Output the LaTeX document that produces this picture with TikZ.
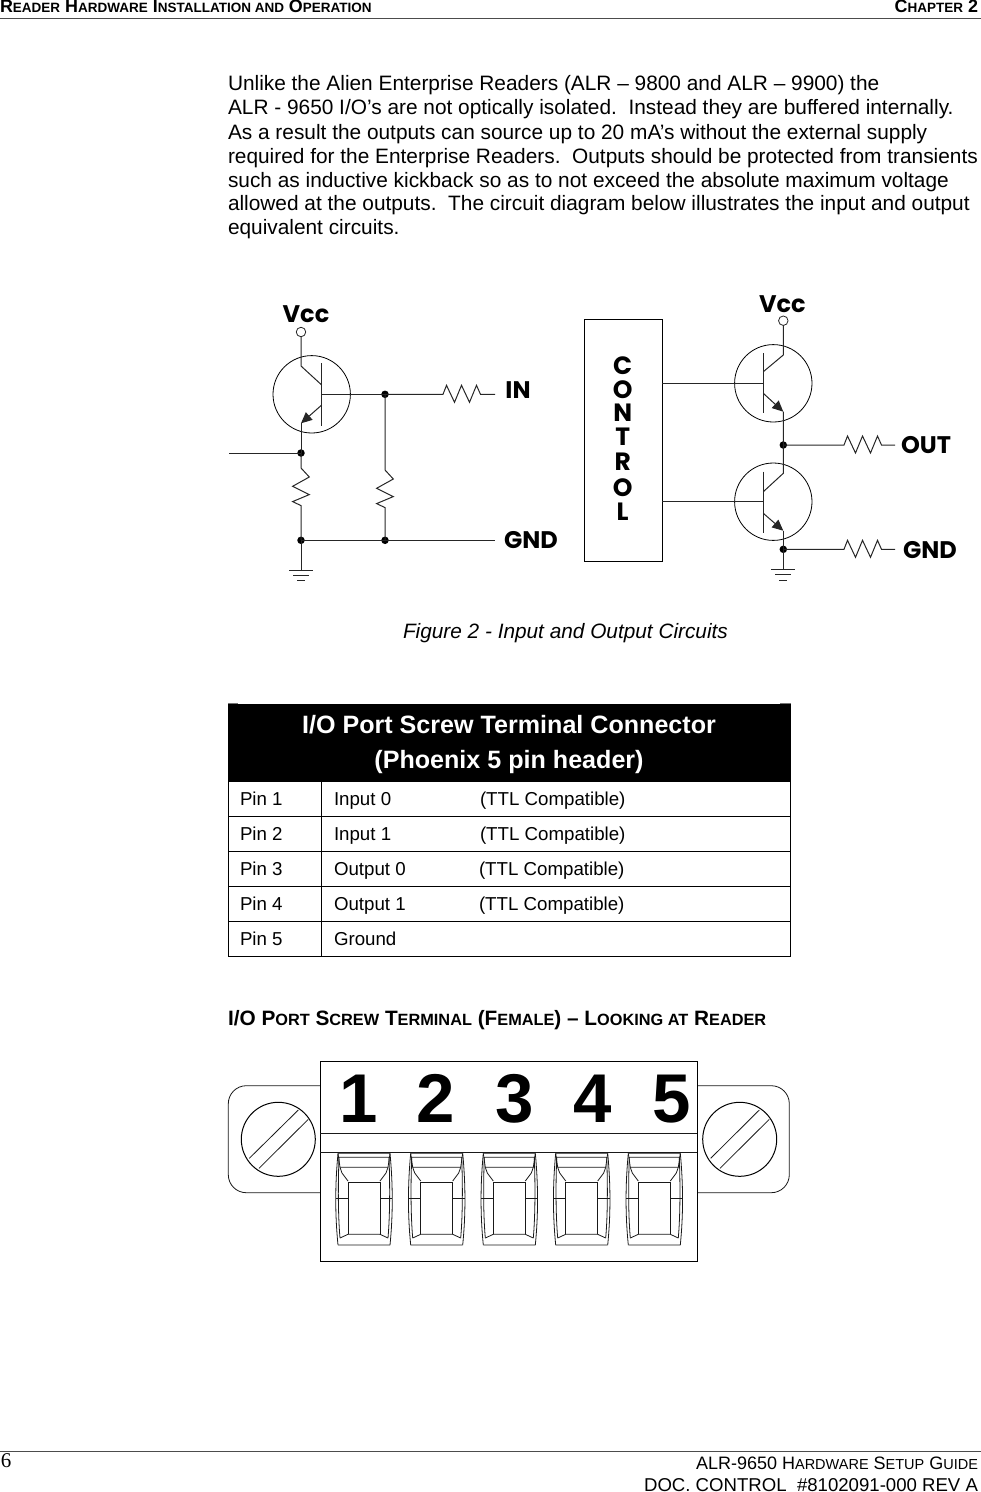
\documentclass[tikz,border=0pt]{standalone}
\usepackage{fontspec}
\setmainfont{Liberation Sans}
\newfontfamily\serifnum{Liberation Serif}
\newfontfamily\cirfont{Poppins}
\usetikzlibrary{arrows.meta}
\newcommand\sm[1]{{\fontsize{\smsz}{\smsz}\selectfont #1}}
\newcommand\smsz{13.5}
\newcommand\HR{-- ++(3.5,-9) -- ++(8,17) -- ++(7,-17) -- ++(8,17) -- ++(7,-17) -- ++(4,9)}
\newcommand\VR{-- ++(8.3,9) -- ++(-16.7,9.3) -- ++(16.7,8.3) -- ++(-16.7,7) -- ++(8.4,4)}
\tikzset{
  txt/.style={anchor=base west,inner sep=0pt,outer sep=0pt},
  body/.style={txt,font=\fontsize{20.85}{24}\selectfont},
  hdr/.style={txt,font=\fontsize{17.9}{18}\selectfont\bfseries},
  foot/.style={inner sep=0pt,outer sep=0pt,anchor=base east,font=\fontsize{18}{18}\selectfont},
  cell/.style={txt,font=\fontsize{18.7}{19}\selectfont},
  thead/.style={inner sep=0pt,outer sep=0pt,anchor=base,text=white,font=\fontsize{25.1}{26}\selectfont\bfseries},
  wire/.style={line width=1pt,draw=black!85},
  thinw/.style={line width=0.8pt,draw=black},
  dot/.style={circle,fill=black,inner sep=0pt,minimum size=7.5pt,outer sep=0pt},
  term/.style={circle,draw=black!85,fill=white,line width=0.8pt,inner sep=0pt,minimum size=9.5pt,outer sep=0pt},
  clabel/.style={inner sep=0pt,outer sep=0pt,font=\cirfont\bfseries\fontsize{24}{24}\selectfont},
  ctl/.style={inner sep=0pt,outer sep=0pt,font=\cirfont\bfseries\fontsize{25}{25}\selectfont},
  earrow/.style={wire,-{Triangle[length=11pt,width=10pt]}},
  digit/.style={inner sep=0pt,outer sep=0pt,anchor=base,font=\fontsize{69}{69}\selectfont\bfseries},
  tline/.style={line width=1pt,draw=black},
  conn/.style={line width=0.8pt,draw=black!90},
  pinslot/.pic={
    \draw[conn] (-26,1153.3) -- (26,1153.3) (-25.5,1157.3) -- (25.5,1157.3) (-24,1167.3) -- (24,1167.3) (-26,1245) -- (26,1245) (-24,1238) -- (-16,1234.3) -- (16,1234.3) -- (24,1238);
    \draw[conn] (-16,1234.3) -- (-16,1182.3) -- (16,1182.3) -- (16,1234.3);
    \draw[conn] (-26,1153.3) -- (-24,1167.3) -- (-22,1173) -- (-16,1181);
    \draw[conn] (26,1153.3) -- (24,1167.3) -- (22,1173) -- (16,1181);
    \draw[conn] (-26,1153.3) .. controls (-29,1185) and (-29,1215) .. (-26,1245);
    \draw[conn] (26,1153.3) .. controls (29,1185) and (29,1215) .. (26,1245);
    \draw[conn] (-25,1157) .. controls (-26,1185) and (-26,1215) .. (-24,1238);
    \draw[conn] (25,1157) .. controls (26,1185) and (26,1215) .. (24,1238);
    \draw[conn] (-28,1198.3) -- (-16,1198.3) (16,1198.3) -- (28,1198.3);
  },
  gndsym/.pic={
    \draw[wire] (-12,0) -- (12,0);
    \draw[wire] (-8,5) -- (8,5);
    \draw[wire] (-4,10.5) -- (4,10.5);
  }
}
\begin{document}
\begin{tikzpicture}[x=1pt,y=-1pt]
\useasboundingbox (0,0) rectangle (981,1492);
% page header
\node[hdr] (h1) at (0,12) {R\sm{EADER} H\sm{ARDWARE} I\sm{NSTALLATION AND} O\sm{PERATION}};
\node[hdr,anchor=base east] (h2) at (978,12) {C\sm{HAPTER} 2};
\coordinate (hl) at (0,18); \coordinate (hr) at (981,18);
\draw[line width=0.8pt,black!70] (hl) -- (hr);
% body
\node[body] (t1) at (228,90) {Unlike the Alien Enterprise Readers (ALR – 9800 and ALR – 9900) the};
\node[body] (t2) at (228,114) {ALR - 9650 I/O’s are not optically isolated.\ \ Instead they are buffered internally.};
\node[body] (t3) at (228,139) {As a result the outputs can source up to 20 mA’s without the external supply};
\node[body] (t4) at (228,163) {required for the Enterprise Readers.\ \ Outputs should be protected from transients};
\node[body] (t5) at (228,187) {such as inductive kickback so as to not exceed the absolute maximum voltage};
\node[body] (t6) at (228,210) {allowed at the outputs.\ \ The circuit diagram below illustrates the input and output};
\node[body] (t7) at (228,234) {equivalent circuits.};
% left circuit
\coordinate (q1) at (311.7,394.3);
\draw[thinw] (q1) circle (38.7);
\node[term] (v1) at (301,332) {};
\node[clabel] (vcc1) at (306,314) {Vcc};
\node[dot] (jb) at (385,394.3) {};
\node[dot] (jt) at (301,453) {};
\node[dot] (jg1) at (301,540.3) {};
\node[dot] (jg2) at (385,540.3) {};
\coordinate (b1t) at (321.7,363); \coordinate (b1b) at (321.7,425.7);
\coordinate (b1m) at (321.7,394.3);
\coordinate (c1a) at (301,366); \coordinate (c1b) at (321.7,385);
\coordinate (e1a) at (321.7,405); \coordinate (e1b) at (301,423.3);
\draw[wire] (b1t) -- (b1b);
\draw[wire] (v1) -- (c1a) -- (c1b);
\draw[earrow] (e1a) -- (e1b);
\draw[wire] (e1b) -- (jt.center);
\draw[wire] (b1m) -- (jb.center);
\coordinate (inR) at (443,394.3); \coordinate (inE) at (495,394.3);
\draw[wire] (jb.center) -- (inR) \HR -- (inE);
\node[clabel] (in) at (518,390) {IN};
\coordinate (ls) at (229,453);
\draw[wire] (ls) -- (jt.center);
\coordinate (r1s) at (301,468); \coordinate (r2s) at (385,470);
\draw[wire] (jt.center) -- (r1s) \VR -- (jg1.center);
\draw[wire] (jb.center) -- (r2s) \VR -- (jg2.center);
\coordinate (ge) at (495,540.3);
\draw[wire] (jg1.center) -- (jg2.center) -- (ge);
\node[clabel] (gnd1) at (531,540) {GND};
\coordinate (g1) at (301,570);
\draw[wire] (jg1.center) -- (g1);
\pic at (g1) {gndsym};
% control box
\node[draw=black,line width=1pt,minimum width=78pt,minimum height=241.7pt,inner sep=0pt,outer sep=0pt] (ctrl) at (623,440.2) {};
\foreach \ch/\yy/\nm in {C/365.7/a,O/390/b,N/413/c,T/437/d,R/462/e,O/488/f,L/512/g}
  \node[ctl] (ctl\nm) at (622.7,\yy) {\ch};
% right transistors
\coordinate (q2) at (773.3,383.3); \coordinate (q3) at (773.3,501.7);
\draw[thinw] (q2) circle (38.7);
\draw[thinw] (q3) circle (38.7);
\node[term] (v2) at (783.3,320.7) {};
\node[clabel] (vcc2) at (782.3,304) {Vcc};
\node[dot] (jo) at (783.3,445) {};
\node[dot] (jn) at (783.3,549.3) {};
\coordinate (b2t) at (763.3,353); \coordinate (b2b) at (763.3,413); \coordinate (b2m) at (763.3,383.3);
\coordinate (b3t) at (763.3,471.7); \coordinate (b3b) at (763.3,533.3); \coordinate (b3m) at (763.3,501.7);
\draw[wire] (b2t) -- (b2b);
\draw[wire] (b3t) -- (b3b);
\coordinate (c2a) at (783.3,355); \coordinate (c2b) at (763.3,371.7);
\coordinate (e2a) at (763.3,393.3); \coordinate (e2b) at (783.3,411.7);
\coordinate (c3a) at (783.3,473.3); \coordinate (c3b) at (763.3,491.7);
\coordinate (e3a) at (763.3,513.3); \coordinate (e3b) at (783.3,530.7);
\draw[wire] (v2) -- (c2a) -- (c2b);
\draw[earrow] (e2a) -- (e2b);
\draw[wire] (e2b) -- (jo.center) -- (c3a) -- (c3b);
\draw[earrow] (e3a) -- (e3b);
\draw[wire] (e3b) -- (jn.center);
\coordinate (cl2) at (662,383.3); \coordinate (cl3) at (662,501.7);
\draw[wire] (cl2) -- (b2m);
\draw[wire] (cl3) -- (b3m);
\coordinate (oR) at (844,445); \coordinate (oE) at (895,445);
\coordinate (nR) at (844,549.3); \coordinate (nE) at (895,549.3);
\draw[wire] (jo.center) -- (oR) \HR -- (oE);
\draw[wire] (jn.center) -- (nR) \HR -- (nE);
\node[clabel] (out) at (926,445) {OUT};
\node[clabel] (gnd2) at (930,550) {GND};
\coordinate (g2) at (783.3,569.5);
\draw[wire] (jn.center) -- (g2);
\pic at (g2) {gndsym};
% caption
\node[txt,font=\fontsize{20.8}{24}\selectfont\itshape] (cap) at (403,638) {Figure 2 - Input and Output Circuits};
% table
\fill[black] (228,704) rectangle (791,781);
\draw[line width=1pt,black!55] (228,703.5) -- (238,703.5) (780,703.5) -- (791,703.5);
\node[thead] (th1) at (509,733) {I/O Port Screw Terminal Connector};
\node[thead] (th2) at (509,768) {(Phoenix 5 pin header)};
\draw[tline] (228.5,781) -- (228.5,956.5) -- (790.5,956.5) -- (790.5,781);
\draw[tline] (321.5,781) -- (321.5,956.5);
\foreach \yy in {781,816,851,886,921} \draw[tline] (228.5,\yy) -- (790.5,\yy);
\node[cell] (p1) at (240,805) {Pin 1};
\node[cell] (p2) at (240,840) {Pin 2};
\node[cell] (p3) at (240,875) {Pin 3};
\node[cell] (p4) at (240,910) {Pin 4};
\node[cell] (p5) at (240,945) {Pin 5};
\node[cell] (s1) at (334,805) {Input 0};
\node[cell] (s2) at (334,840) {Input 1};
\node[cell] (s3) at (334,875) {Output 0};
\node[cell] (s4) at (334,910) {Output 1};
\node[cell] (s5) at (334,945) {Ground};
\node[cell] (c1) at (480,805) {(TTL Compatible)};
\node[cell] (c2) at (480,840) {(TTL Compatible)};
\node[cell] (c3) at (479,875) {(TTL Compatible)};
\node[cell] (c4) at (479,910) {(TTL Compatible)};
% heading
\renewcommand\smsz{16.3}
\node[txt,font=\fontsize{20.8}{21}\selectfont\bfseries] (hd) at (228,1025) {I/O P\sm{ORT} S\sm{CREW} T\sm{ERMINAL} (F\sm{EMALE}) – L\sm{OOKING AT} R\sm{EADER}};
% connector
\draw[conn,rounded corners=18pt] (320.3,1085.7) -- (228.3,1085.7) -- (228.3,1192.7) -- (320.3,1192.7);
\draw[conn,rounded corners=18pt] (697.3,1085.7) -- (789.3,1085.7) -- (789.3,1192.7) -- (697.3,1192.7);
\draw[line width=1pt,black] (320.3,1061.3) rectangle (697.3,1261);
\draw[conn] (320.3,1133.3) -- (697.3,1133.3);
\draw[conn] (320.3,1152.7) -- (697.3,1152.7);
\coordinate (sl) at (278.3,1139.3); \coordinate (sr) at (739.7,1139.3);
\draw[line width=1pt,black] (sl) circle (37);
\draw[line width=1pt,black] (sr) circle (37);
\draw[conn] (249.3,1158.3) -- (298.3,1110) (259,1168.3) -- (308.3,1119.3);
\draw[conn] (710.7,1158.3) -- (759.3,1110) (720,1168.3) -- (769.3,1119.3);
\node[digit] (d1) at (358.3,1122.7) {1};
\node[digit] (d2) at (436,1122.7) {2};
\node[digit] (d3) at (515,1122.7) {3};
\node[digit] (d4) at (592.7,1122.7) {4};
\node[digit] (d5) at (672,1122.7) {5};
\foreach \cx in {364,436.7,509.3,581.7,654.3} \pic at (\cx,0) {pinslot};
% footer
\coordinate (fl) at (0,1451); \coordinate (fr) at (981,1451);
\draw[line width=0.8pt,black!70] (fl) -- (fr);
\node[txt,font=\serifnum\fontsize{21}{21}\selectfont] (pg) at (1,1467) {6};
\renewcommand\smsz{14.5}
\node[foot] (f1) at (978,1469) {ALR-9650 H\sm{ARDWARE} S\sm{ETUP} G\sm{UIDE}};
\node[foot,font=\fontsize{18.6}{19}\selectfont] (f2) at (978,1491) {DOC. CONTROL\ \ \#8102091-000 REV A};
\end{tikzpicture}
\end{document}
